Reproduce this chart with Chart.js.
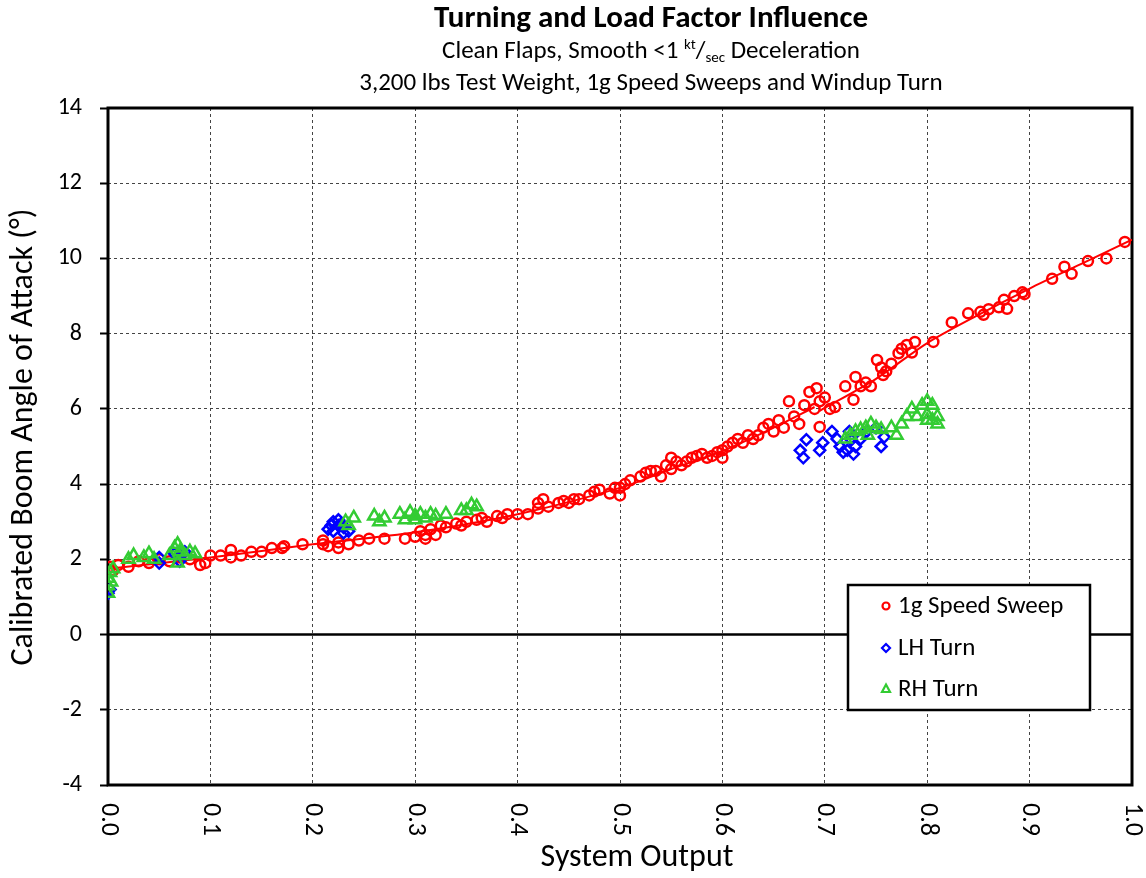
<!DOCTYPE html>
<html>
<head>
<meta charset="utf-8">
<script src="https://cdn.jsdelivr.net/npm/chart.js@4.4.1/dist/chart.umd.min.js"></script>
<style>
html,body{margin:0;padding:0;background:#fff;}
#wrap{width:1146px;height:878px;position:relative;}
</style>
</head>
<body>
<div id="wrap"><canvas id="c" width="1146" height="878"></canvas></div>
<script>
// ---------- DATA ----------
const xTickValues = [0,0.1,0.2,0.3,0.4,0.5,0.6,0.7,0.8,0.9,1.0];
const xTickLabels = ['0.0','0.1','0.2','0.3','0.4','0.5','0.6','0.7','0.8','0.9','1.0'];
const yTickValues = [-4,-2,0,2,4,6,8,10,12,14];

const speedSweepX = [0.002,0.005,0.01,0.02,0.03,0.04,0.05,0.06,0.07,0.08,0.09,0.095,0.1,0.11,0.12,0.12,0.13,0.14,0.15,0.16,0.17,0.172,0.19,0.21,0.21,0.215,0.225,0.225,0.235,0.245,0.255,0.27,0.29,0.3,0.305,0.31,0.31,0.315,0.32,0.325,0.33,0.34,0.345,0.35,0.36,0.365,0.37,0.38,0.385,0.39,0.40,0.41,0.42,0.42,0.425,0.43,0.44,0.445,0.45,0.455,0.46,0.47,0.475,0.48,0.49,0.495,0.5,0.5,0.505,0.51,0.52,0.525,0.53,0.535,0.54,0.545,0.55,0.55,0.555,0.56,0.565,0.57,0.575,0.58,0.585,0.59,0.595,0.6,0.6,0.605,0.61,0.615,0.62,0.625,0.63,0.635,0.64,0.645,0.65,0.655,0.66,0.665,0.67,0.675,0.68,0.685,0.692,0.69,0.695,0.7,0.695,0.705,0.71,0.72,0.728,0.73,0.735,0.74,0.745,0.757,0.751,0.755,0.76,0.765,0.772,0.775,0.78,0.785,0.788,0.806,0.824,0.84,0.852,0.855,0.86,0.87,0.875,0.878,0.885,0.893,0.895,0.922,0.934,0.941,0.957,0.975,0.993];
const speedSweepY = [1.8,1.7,1.85,1.8,1.95,1.9,2.0,1.95,2.05,2.0,1.85,1.9,2.1,2.1,2.25,2.05,2.1,2.2,2.2,2.3,2.3,2.35,2.4,2.5,2.4,2.35,2.3,2.45,2.4,2.5,2.55,2.55,2.55,2.6,2.75,2.65,2.55,2.8,2.65,2.9,2.85,2.95,2.9,3.0,3.05,3.1,3.0,3.15,3.1,3.2,3.2,3.2,3.35,3.5,3.6,3.4,3.5,3.55,3.5,3.6,3.6,3.7,3.8,3.85,3.75,3.9,3.9,3.7,4.0,4.1,4.2,4.3,4.35,4.35,4.2,4.5,4.7,4.4,4.6,4.5,4.6,4.7,4.75,4.8,4.7,4.75,4.85,4.9,4.7,5.0,5.1,5.2,5.1,5.3,5.2,5.3,5.5,5.6,5.4,5.7,5.5,6.2,5.8,5.6,6.1,6.45,6.55,6.0,6.2,6.3,5.52,6.0,6.05,6.6,6.24,6.85,6.6,6.7,6.6,6.9,7.3,7.1,7.0,7.2,7.48,7.6,7.7,7.5,7.78,7.78,8.3,8.54,8.58,8.5,8.65,8.7,8.9,8.66,9.0,9.1,9.05,9.46,9.78,9.59,9.93,10.0,10.44];

const lhTurnX = [0.0,0.002,0.05,0.05,0.07,0.075,0.07,0.065,0.215,0.22,0.225,0.22,0.23,0.225,0.23,0.235,0.228,0.218,0.676,0.682,0.679,0.695,0.698,0.707,0.712,0.715,0.722,0.728,0.725,0.735,0.741,0.75,0.755,0.758,0.724,0.73,0.718];
const lhTurnY = [1.1,1.2,1.9,2.05,2.1,2.2,1.95,2.15,2.8,3.0,2.9,2.75,2.7,3.05,2.85,2.75,2.95,2.9,4.9,5.18,4.7,4.9,5.1,5.4,5.2,5.0,4.9,4.8,5.2,5.2,5.4,5.5,5.0,5.25,5.4,5.0,4.85];

const rhTurnX = [0.0,0.0,0.0,0.002,0.005,0.003,0.02,0.025,0.035,0.04,0.045,0.06,0.065,0.068,0.07,0.068,0.075,0.08,0.085,0.232,0.24,0.235,0.26,0.265,0.27,0.285,0.29,0.295,0.3,0.305,0.31,0.315,0.32,0.33,0.35,0.355,0.36,0.345,0.3,0.72,0.725,0.73,0.735,0.74,0.745,0.75,0.742,0.755,0.765,0.775,0.77,0.78,0.785,0.79,0.795,0.8,0.8,0.805,0.81,0.805,0.81,0.8];
const rhTurnY = [1.1,1.3,1.5,1.65,1.75,1.4,2.0,2.1,2.05,2.15,2.0,2.1,2.3,2.4,2.2,1.9,2.1,2.2,2.15,3.0,3.1,2.9,3.15,3.0,3.1,3.2,3.05,3.25,3.15,3.2,3.1,3.2,3.15,3.2,3.3,3.45,3.4,3.3,3.05,5.2,5.3,5.4,5.45,5.5,5.6,5.5,5.3,5.45,5.5,5.6,5.3,5.8,6.0,5.8,6.1,6.2,5.85,5.7,5.6,6.1,5.8,5.7];

const trendAX = [0.0,0.1,0.2,0.3,0.4,0.5,0.55,0.6,0.65,0.69];
const trendAY = [1.75,2.05,2.4,2.72,3.2,3.9,4.4,4.88,5.5,6.05];
const trendBX = [0.695,0.75,0.8,0.85,0.9,0.95,1.0];
const trendBY = [5.95,6.8,7.75,8.5,9.2,9.85,10.5];

const seriesNames = ['1g Speed Sweep','LH Turn','RH Turn'];
const titleText = 'Turning and Load Factor Influence';
const subtitle2 = '3,200 lbs Test Weight, 1g Speed Sweeps and Windup Turn';
const xTitle = 'System Output';
const yTitle = 'Calibrated Boom Angle of Attack (°)';

// ---------- helpers ----------
const FONT = 'Carlito, Calibri, Lato, "Liberation Sans", sans-serif';
const zip = (xs, ys) => xs.map((x, i) => ({x: x, y: ys[i]}));
const RED = '#ff0000', BLUE = '#0000ff', GREEN = '#33cc33';

const drawPlugin = {
  id: 'custom',
  beforeDatasetsDraw(chart) {
    const {ctx, chartArea: a, scales} = chart;
    ctx.save();
    const y0 = scales.y.getPixelForValue(0);
    ctx.strokeStyle = '#000'; ctx.lineWidth = 2.5; ctx.setLineDash([]);
    ctx.beginPath(); ctx.moveTo(a.left, y0); ctx.lineTo(a.right, y0); ctx.stroke();
    ctx.lineWidth = 3;
    ctx.strokeRect(a.left, a.top, a.right - a.left, a.bottom - a.top);
    ctx.restore();
  },
  afterDraw(chart) {
    const {ctx, chartArea: a, scales} = chart;
    ctx.save();
    ctx.fillStyle = '#000';
    const cx = 651;
    ctx.textAlign = 'center'; ctx.textBaseline = 'middle';
    ctx.font = 'bold 31px ' + FONT;
    ctx.fillText(titleText, cx, 19);
    const parts = [
      {t: 'Clean Flaps, Smooth <1 ', f: '25px', dy: 0},
      {t: 'kt', f: '15px', dy: -7},
      {t: '/', f: '25px', dy: 0},
      {t: 'sec', f: '15px', dy: 6},
      {t: ' Deceleration', f: '25px', dy: 0}
    ];
    let tot = 0;
    parts.forEach(p => { ctx.font = p.f + ' ' + FONT; p.w = ctx.measureText(p.t).width; tot += p.w; });
    let px = cx - tot / 2;
    ctx.textAlign = 'left';
    parts.forEach(p => { ctx.font = p.f + ' ' + FONT; ctx.fillText(p.t, px, 52 + p.dy); px += p.w; });
    ctx.textAlign = 'center';
    ctx.font = '25px ' + FONT;
    ctx.fillText(subtitle2, cx, 84);
    // x tick labels, rotated clockwise
    ctx.font = '26px ' + FONT;
    ctx.textAlign = 'left'; ctx.textBaseline = 'middle';
    xTickValues.forEach((v, i) => {
      const x = scales.x.getPixelForValue(v);
      ctx.save();
      ctx.translate(x, a.bottom + 18);
      ctx.rotate(Math.PI / 2);
      ctx.fillText(xTickLabels[i], 0, 0);
      ctx.restore();
    });
    // axis titles
    ctx.font = '32px ' + FONT;
    ctx.textAlign = 'center';
    ctx.fillText(xTitle, 637, 858);
    ctx.save();
    ctx.translate(24, 437);
    ctx.rotate(-Math.PI / 2);
    ctx.fillText(yTitle, 0, 0);
    ctx.restore();
    // legend
    const lx = 848, ly = 585, lw = 242, lh = 125;
    ctx.fillStyle = '#fff';
    ctx.fillRect(lx, ly, lw, lh);
    ctx.strokeStyle = '#000'; ctx.lineWidth = 2.5;
    ctx.strokeRect(lx, ly, lw, lh);
    const rows = [606, 648, 689];
    ctx.font = '25px ' + FONT;
    ctx.textAlign = 'left'; ctx.textBaseline = 'middle';
    rows.forEach((ry, i) => {
      const mx = 886;
      ctx.lineWidth = 2.2;
      ctx.beginPath();
      if (i === 0) { ctx.strokeStyle = RED; ctx.arc(mx, ry, 3.5, 0, Math.PI * 2); }
      else if (i === 1) { ctx.strokeStyle = BLUE; ctx.moveTo(mx, ry - 4); ctx.lineTo(mx + 4, ry); ctx.lineTo(mx, ry + 4); ctx.lineTo(mx - 4, ry); ctx.closePath(); }
      else { ctx.strokeStyle = GREEN; ctx.moveTo(mx, ry - 4.5); ctx.lineTo(mx + 4, ry + 3); ctx.lineTo(mx - 4, ry + 3); ctx.closePath(); }
      ctx.stroke();
      ctx.fillStyle = '#000';
      ctx.fillText(seriesNames[i], 898, ry + 1);
    });
    ctx.restore();
  }
};

new Chart(document.getElementById('c'), {
  type: 'scatter',
  data: {
    datasets: [
      {label: seriesNames[2], data: zip(rhTurnX, rhTurnY), pointStyle: 'triangle', pointRadius: 7, borderColor: GREEN, backgroundColor: 'rgba(0,0,0,0)', borderWidth: 2.5, order: 0},
      {label: seriesNames[1], data: zip(lhTurnX, lhTurnY), pointStyle: 'rectRot', pointRadius: 5.5, borderColor: BLUE, backgroundColor: 'rgba(0,0,0,0)', borderWidth: 2.5, order: 1},
      {label: seriesNames[0], data: zip(speedSweepX, speedSweepY), pointStyle: 'circle', pointRadius: 5, borderColor: RED, backgroundColor: 'rgba(0,0,0,0)', borderWidth: 2.5, order: 2},
      {label: 'trendA', data: zip(trendAX, trendAY), showLine: true, pointRadius: 0, borderColor: RED, borderWidth: 2, tension: 0.3, order: 3},
      {label: 'trendB', data: zip(trendBX, trendBY), showLine: true, pointRadius: 0, borderColor: RED, borderWidth: 2, tension: 0.3, order: 3}
    ]
  },
  options: {
    responsive: false,
    animation: false,
    layout: {padding: {top: 108, left: 0, right: 14, bottom: 0}},
    plugins: {legend: {display: false}, tooltip: {enabled: false}, title: {display: false}},
    scales: {
      x: {
        type: 'linear', min: 0, max: 1,
        afterBuildTicks: s => { s.ticks = xTickValues.map(v => ({value: v})); },
        afterFit: s => { s.height = 93; },
        ticks: {display: true, color: 'rgba(0,0,0,0)', callback: () => '', font: {size: 20}},
        grid: {color: '#444', lineWidth: 1, drawTicks: false},
        border: {display: false, dash: [3, 3]}
      },
      y: {
        type: 'linear', min: -4, max: 14,
        afterBuildTicks: s => { s.ticks = yTickValues.map(v => ({value: v})); },
        afterFit: s => { s.width = 108; },
        ticks: {color: '#000', font: {size: 24, family: FONT}, padding: 18},
        grid: {color: '#444', lineWidth: 1, drawTicks: true, tickLength: 8, tickColor: '#000', tickWidth: 2, tickBorderDash: [1, 0]},
        border: {display: false, dash: [3, 3]}
      }
    }
  },
  plugins: [drawPlugin]
});
</script>
</body>
</html>
